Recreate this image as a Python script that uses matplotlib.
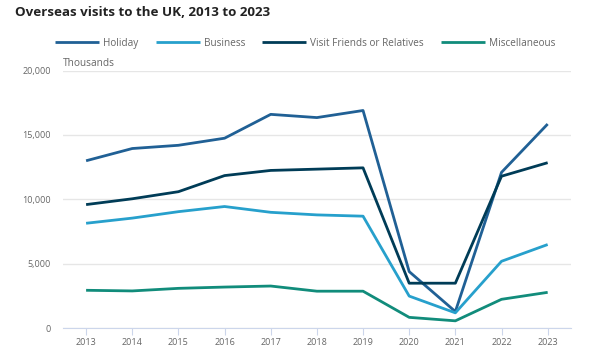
import numpy as np
import matplotlib
matplotlib.use("Agg")
import matplotlib.pyplot as plt
import matplotlib.ticker as ticker

plt.rcParams['font.family'] = ['Open Sans', 'DejaVu Sans']

years = [2013, 2014, 2015, 2016, 2017, 2018, 2019, 2020, 2021, 2022, 2023]
holiday = [13000, 13950, 14200, 14750, 16600, 16350, 16900, 4400, 1300, 12100, 15850]
business = [8150, 8550, 9050, 9450, 9000, 8800, 8700, 2500, 1200, 5200, 6500]
vfr = [9600, 10050, 10600, 11850, 12250, 12350, 12450, 3500, 3500, 11800, 12850]
misc = [2950, 2900, 3100, 3200, 3280, 2880, 2880, 850, 580, 2250, 2790]

series = [("Holiday", holiday, "#206095"),
          ("Business", business, "#27a0cc"),
          ("Visit Friends or Relatives", vfr, "#003c57"),
          ("Miscellaneous", misc, "#118c7b")]

fig = plt.figure(figsize=(5.89, 3.59), dpi=100)
ax = fig.add_axes([0.107, 0.0855, 0.862, 0.718])

for name, vals, col in series:
    ax.plot(years, vals, color=col, lw=2, label=name, solid_capstyle='butt')

ax.set_xlim(2012.5, 2023.5)
ax.set_ylim(0, 20000)
ax.set_xticks(years)
ax.set_yticks([0, 5000, 10000, 15000, 20000])
ax.yaxis.set_major_formatter(ticker.FuncFormatter(lambda v, p: f"{int(v):,}"))
ax.grid(axis='y', color='#e6e6e6', lw=1)
ax.set_axisbelow(True)
for s in ['top', 'right', 'left']:
    ax.spines[s].set_visible(False)
ax.spines['bottom'].set_color('#ccd6eb')
ax.tick_params(axis='x', colors='#ccd6eb', length=5, pad=2, labelcolor='#666666', labelsize=6.5)
ax.tick_params(axis='y', length=0, labelcolor='#666666', labelsize=6.5, pad=8.6)

fig.text(0.025, 0.966, "Overseas visits to the UK, 2013 to 2023", fontsize=9.6,
         fontweight='bold', color='#222222', va='center')
fig.text(0.107, 0.822, "Thousands", fontsize=7.3, color='#666666', va='center')

fig.legend(loc='center', bbox_to_anchor=(0.518, 0.88), ncol=4, frameon=False,
           fontsize=7.2, handlelength=4.4, columnspacing=1.7, handletextpad=0.4,
           labelcolor='#666666')

fig.savefig("out.png", dpi=100)
